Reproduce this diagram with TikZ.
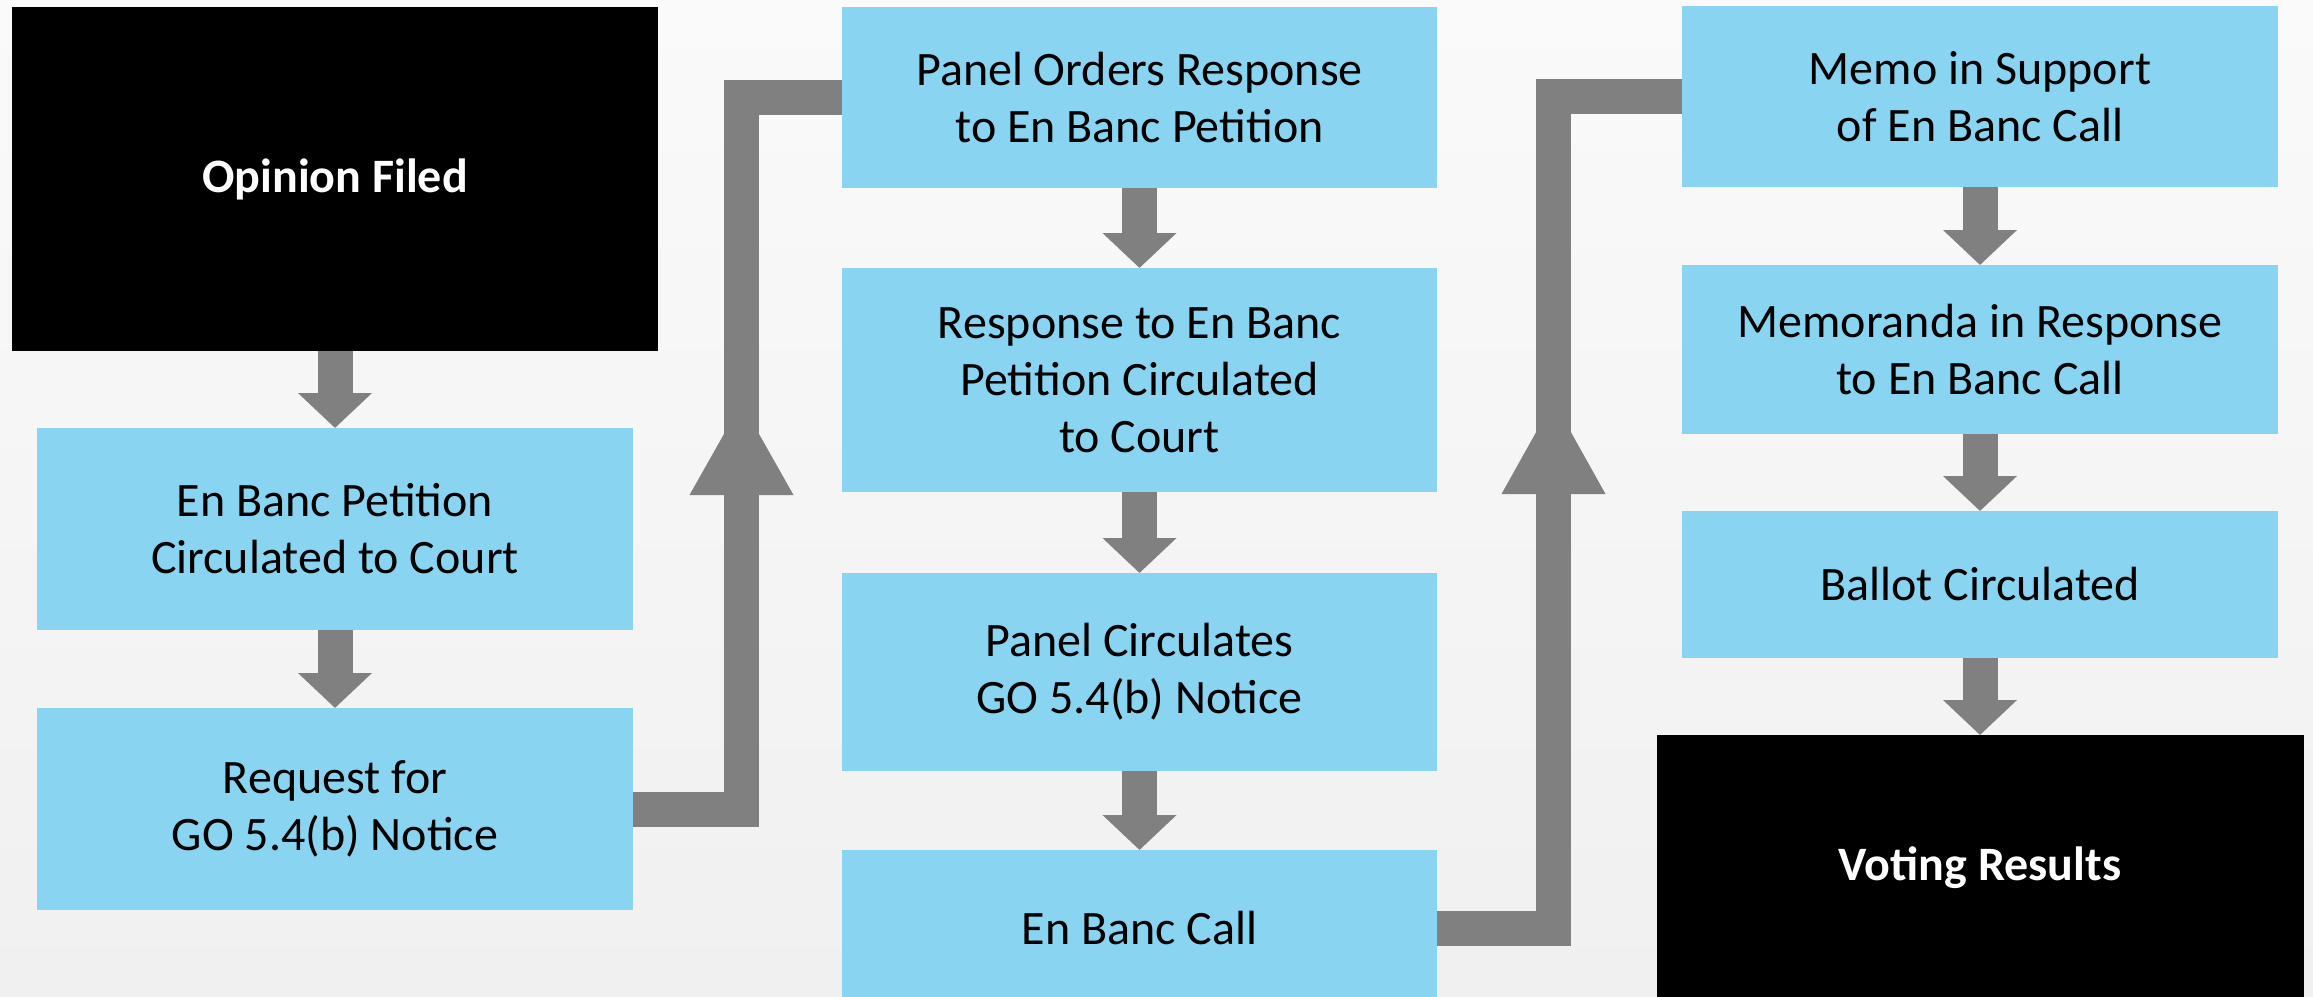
\documentclass[tikz,border=0pt]{standalone}
\usepackage{fontspec}
\setmainfont{Carlito}
\usetikzlibrary{arrows.meta}
\definecolor{boxblue}{RGB}{137,212,240}
\definecolor{arrowgray}{RGB}{128,128,128}
\definecolor{bgtop}{RGB}{250,250,250}
\definecolor{bgbot}{RGB}{240,240,240}
\begin{document}
\begin{tikzpicture}[x=1pt,y=-1pt,
  stepbox/.style={fill=boxblue, inner sep=0pt, outer sep=0pt, align=center,
    font=\fontsize{48}{57}\selectfont, text=black},
  endbox/.style={fill=black, inner sep=0pt, outer sep=0pt, align=center,
    font=\fontsize{48}{57}\selectfont\bfseries, text=white},
  flow/.style={draw=arrowgray, line width=35pt, -{Triangle[length=35pt,width=72pt]}},
  elbow/.style={draw=arrowgray, line width=35pt, line join=miter},
  midhead/.style={fill=arrowgray}
]
\useasboundingbox (0,0) rectangle (2313,996);
\clip (0,0) rectangle (2313,996);
\shade[top color=bgtop, bottom color=bgbot] (0,0) rectangle (2313,996);

% left column
\node[endbox, minimum width=646pt, minimum height=344pt] (op) at (335,179) {Opinion Filed};
\node[stepbox, minimum width=596pt, minimum height=202pt] (ebp) at (335,529) {En Banc Petition\\Circulated to Court};
\node[stepbox, minimum width=596pt, minimum height=202pt] (req) at (335,809) {Request for\\GO 5.4(b) Notice};

% middle column
\node[stepbox, minimum width=595pt, minimum height=181pt] (por) at (1139.5,97.5) {Panel Orders Response\\to En Banc Petition};
\node[stepbox, minimum width=595pt, minimum height=224pt] (resp) at (1139.5,380) {Response to En Banc\\Petition Circulated\\to Court};
\node[stepbox, minimum width=595pt, minimum height=198pt] (pc) at (1139.5,672) {Panel Circulates\\GO 5.4(b) Notice};
\node[stepbox, minimum width=595pt, minimum height=156pt] (ebc) at (1139.5,928) {En Banc Call};

% right column
\node[stepbox, minimum width=596pt, minimum height=181pt] (memo) at (1980,96.5) {Memo in Support\\of En Banc Call};
\node[stepbox, minimum width=596pt, minimum height=169pt] (memr) at (1980,349.5) {Memoranda in Response\\to En Banc Call};
\node[stepbox, minimum width=596pt, minimum height=147pt] (ballot) at (1980,584.5) {Ballot Circulated};
\node[endbox, minimum width=647pt, minimum height=265pt] (vote) at (1980,867.5) {Voting Results};

% straight arrows
\draw[flow] (op.south) -- (ebp.north);
\draw[flow] (ebp.south) -- (req.north);
\draw[flow] (por.south) -- (resp.north);
\draw[flow] (resp.south) -- (pc.north);
\draw[flow] (pc.south) -- (ebc.north);
\draw[flow] (memo.south) -- (memr.north);
\draw[flow] (memr.south) -- (ballot.north);
\draw[flow] (ballot.south) -- (vote.north);

% elbow connectors
\coordinate (k1) at (741.5,0);
\coordinate (k2) at (1553.5,0);
\draw[elbow] (req.east) -| (k1 |- por.west) -- (por.west);
\draw[elbow] (ebc.east) -| (k2 |- memo.west) -- (memo.west);
\coordinate (h1) at (741.5,403);
\coordinate (h2) at (1553.5,401);
\fill[midhead] (h1) -- ++(-52,92) -- ++(104,0) -- cycle;
\fill[midhead] (h2) -- ++(-52,93) -- ++(104,0) -- cycle;
\end{tikzpicture}
\end{document}
